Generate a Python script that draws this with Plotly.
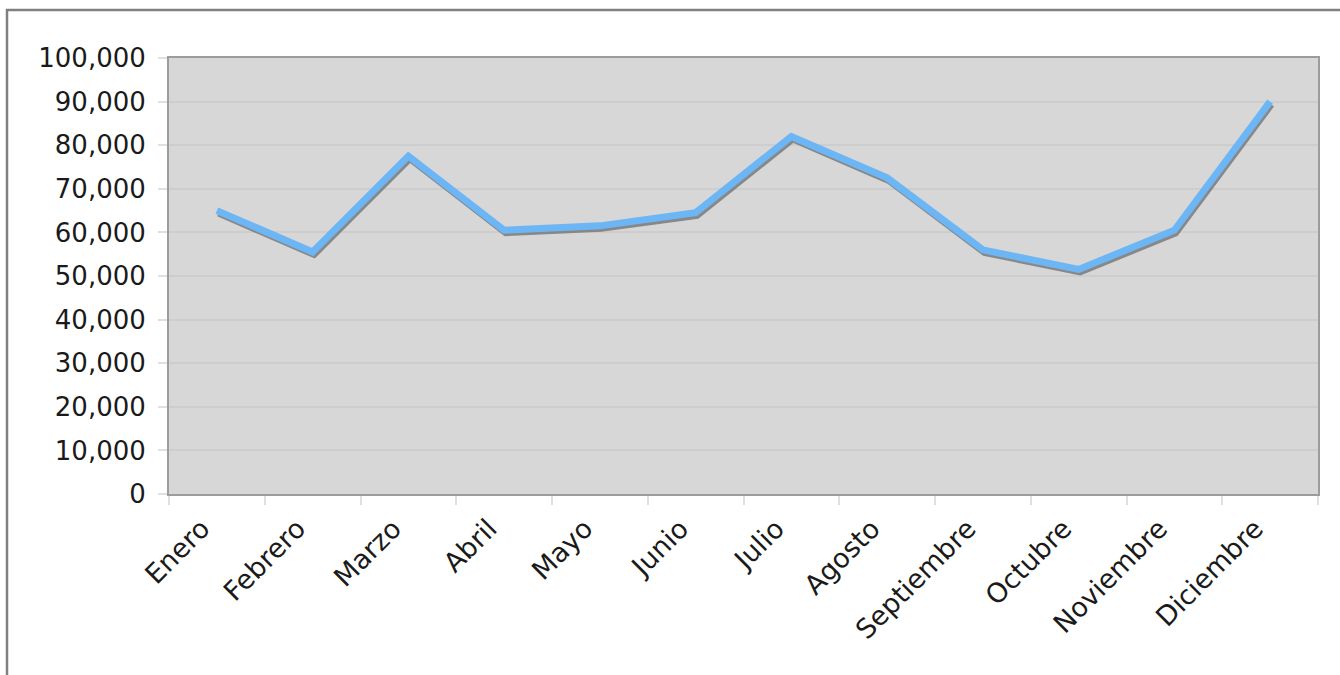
import plotly.graph_objects as go

months = ["Enero", "Febrero", "Marzo", "Abril", "Mayo", "Junio", "Julio",
          "Agosto", "Septiembre", "Octubre", "Noviembre", "Diciembre"]
values = [65000, 55500, 77500, 60500, 61500, 64500, 82000,
          72500, 56000, 51500, 60500, 90000]
y_ticks = [0, 10000, 20000, 30000, 40000, 50000, 60000, 70000, 80000, 90000, 100000]

W, H = 1340, 675
L, R, T, B = 169, 22, 58, 181
plot_w = W - L - R
plot_h = H - T - B
n = len(months)
x_unit_px = plot_w / n
y_unit_px = plot_h / 100000
shadow_dx = 1.5 / x_unit_px
shadow_dy = 3.0 / y_unit_px

font = "DejaVu Sans, Verdana, sans-serif"
txt = "#1a1a1a"

fig = go.Figure()
# base trace (invisible) so the visible axes are drawn
fig.add_trace(go.Scatter(x=months, y=values, mode="lines", opacity=0,
                         line=dict(color="#6cb6f6", width=1),
                         hoverinfo="skip", showlegend=False))
# shadow (same data, drawn on offset overlaying axes)
fig.add_trace(go.Scatter(x=months, y=values, mode="lines", xaxis="x2", yaxis="y2",
                         line=dict(color="rgba(110,110,110,0.75)", width=6),
                         hoverinfo="skip", showlegend=False))
# main line
fig.add_trace(go.Scatter(x=months, y=values, mode="lines", xaxis="x3", yaxis="y3",
                         line=dict(color="#6cb6f6", width=7),
                         showlegend=False))

fig.update_layout(
    width=W, height=H,
    margin=dict(l=L, r=R, t=T, b=B, pad=0),
    paper_bgcolor="white",
    plot_bgcolor="#d7d7d7",
    font=dict(family=font, size=26, color=txt),
    xaxis=dict(
        type="category", range=[-0.5, n - 0.5],
        categoryorder="array", categoryarray=months,
        showgrid=False, tickson="boundaries",
        ticks="outside", ticklen=9, tickcolor="#e0e0e0", tickwidth=2,
        tickangle=-45, ticklabelstandoff=6, ticklabelshift=-15,
        showline=True, linecolor="#9c9c9c", linewidth=2, mirror=True,
        tickfont=dict(family=font, size=27, color=txt),
        zeroline=False, fixedrange=True,
    ),
    yaxis=dict(
        range=[0, 100000], tickvals=y_ticks,
        tickformat=",d",
        showgrid=True, gridcolor="#cdcdcd", gridwidth=2,
        ticks="outside", ticklen=9, tickcolor="#e0e0e0", tickwidth=2,
        ticklabelstandoff=7,
        showline=True, linecolor="#9c9c9c", linewidth=2, mirror=True,
        tickfont=dict(family=font, size=26, color=txt),
        zeroline=False, fixedrange=True,
    ),
    xaxis2=dict(
        type="category", overlaying="x", categoryorder="array", categoryarray=months,
        range=[-0.5 - shadow_dx, n - 0.5 - shadow_dx], visible=False, fixedrange=True,
    ),
    yaxis2=dict(
        overlaying="y", range=[shadow_dy, 100000 + shadow_dy], visible=False, fixedrange=True,
    ),
    xaxis3=dict(
        type="category", overlaying="x", categoryorder="array", categoryarray=months,
        range=[-0.5, n - 0.5], visible=False, fixedrange=True,
    ),
    yaxis3=dict(
        overlaying="y", range=[0, 100000], visible=False, fixedrange=True,
    ),
    shapes=[dict(
        type="rect", xref="paper", yref="paper",
        x0=(7 - L) / plot_w, x1=(W + 10 - L) / plot_w,
        y0=(H - B - (H + 10)) / plot_h, y1=(H - B - 10) / plot_h,
        line=dict(color="#808080", width=2.5), fillcolor="rgba(0,0,0,0)", layer="below",
    )],
)

fig.write_html("out.html", config={"displayModeBar": False},
               post_script="document.body.style.margin='0';document.body.style.overflow='hidden';")
